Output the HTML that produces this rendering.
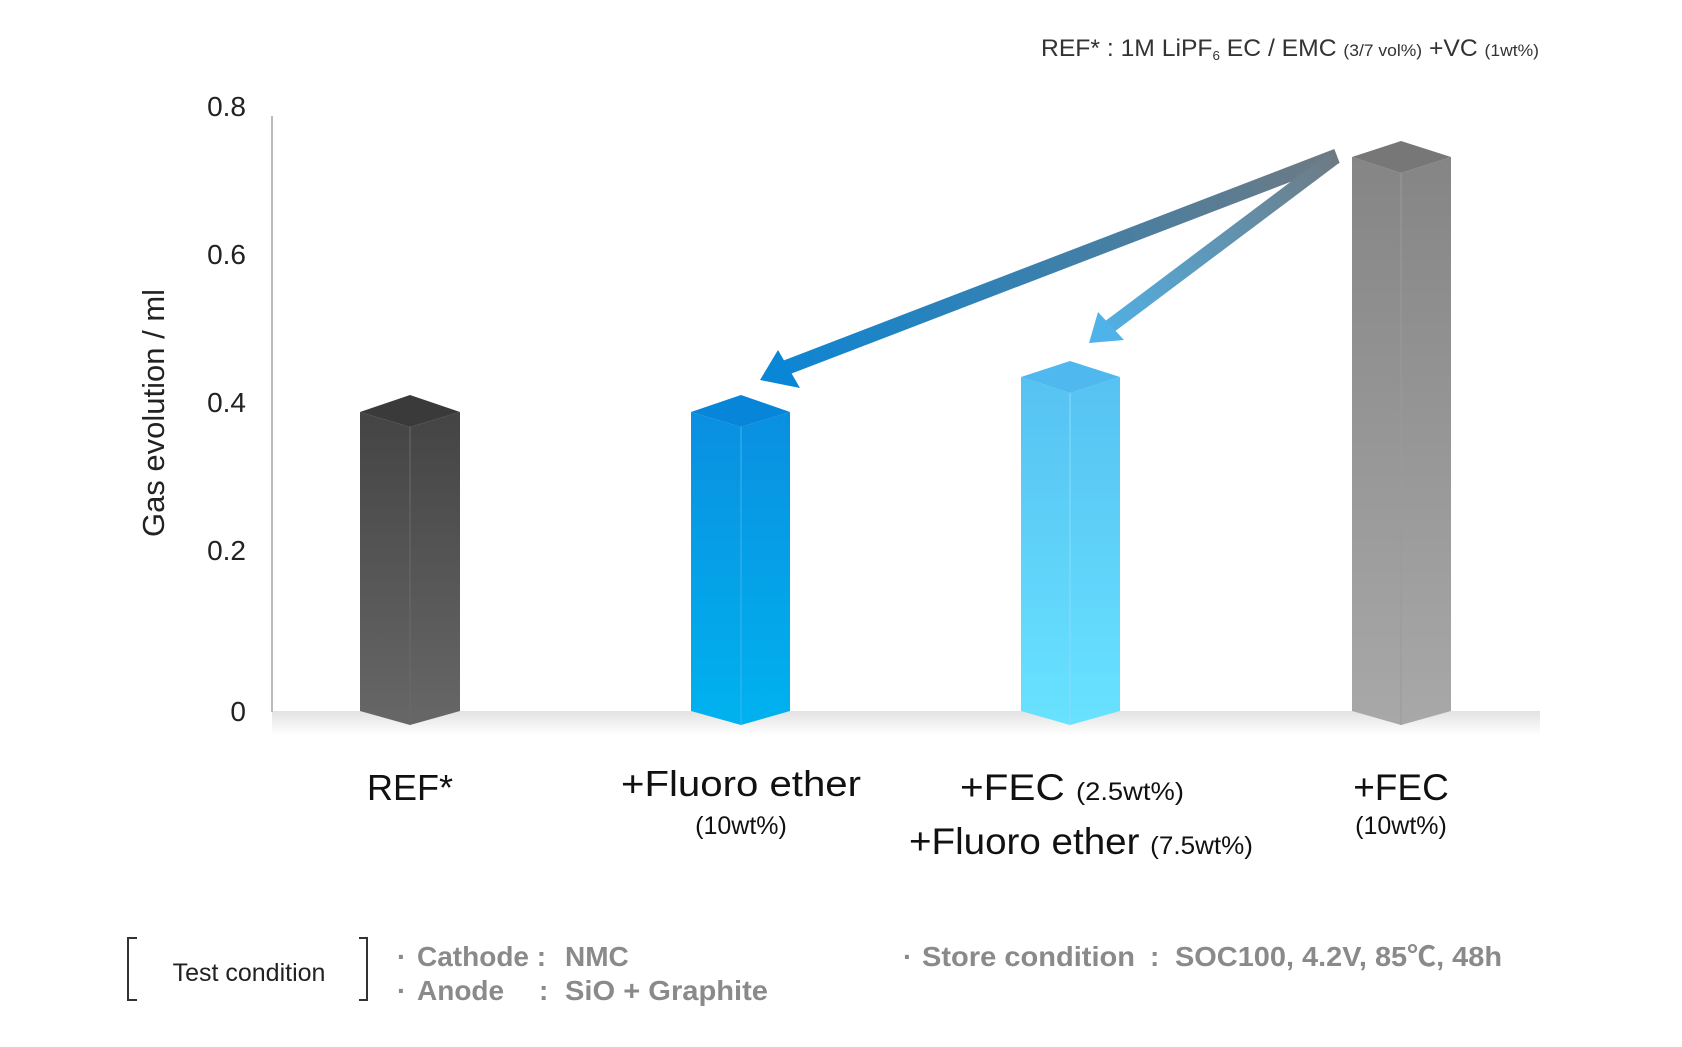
<!DOCTYPE html>
<html><head><meta charset="utf-8"><style>
html,body{margin:0;padding:0;background:#fff;}
svg{display:block;}
text{font-family:"Liberation Sans","Noto Sans CJK JP",sans-serif;}
</style></head><body>
<svg width="1682" height="1047" viewBox="0 0 1682 1047" xmlns="http://www.w3.org/2000/svg">
<defs>
<linearGradient id="floor" x1="0" y1="0" x2="0" y2="1"><stop offset="0" stop-color="#e2e2e2"/><stop offset="1" stop-color="#ffffff"/></linearGradient>
<linearGradient id="g1" x1="0" y1="0" x2="0" y2="1"><stop offset="0" stop-color="#444"/><stop offset="1" stop-color="#676767"/></linearGradient>
<linearGradient id="g2" x1="0" y1="0" x2="0" y2="1"><stop offset="0" stop-color="#0a8fe0"/><stop offset="1" stop-color="#00b2ef"/></linearGradient>
<linearGradient id="g3" x1="0" y1="0" x2="0" y2="1"><stop offset="0" stop-color="#56c2f2"/><stop offset="1" stop-color="#68e2ff"/></linearGradient>
<linearGradient id="g4" x1="0" y1="0" x2="0" y2="1"><stop offset="0" stop-color="#858585"/><stop offset="1" stop-color="#a8a8a8"/></linearGradient>
<linearGradient id="a1" gradientUnits="userSpaceOnUse" x1="1337" y1="156" x2="760" y2="379"><stop offset="0" stop-color="#6e7a82"/><stop offset="1" stop-color="#0a86d6"/></linearGradient>
<linearGradient id="a2" gradientUnits="userSpaceOnUse" x1="1337" y1="156" x2="1089" y2="343"><stop offset="0" stop-color="#6e7a82"/><stop offset="1" stop-color="#4fb3ea"/></linearGradient>
</defs>
<text x="1041" y="56" font-size="24" fill="#333" textLength="498" lengthAdjust="spacingAndGlyphs">REF* : 1M LiPF<tspan font-size="13" dy="4">6</tspan><tspan dy="-4"> EC / EMC </tspan><tspan font-size="17">(3/7 vol%)</tspan> +VC <tspan font-size="17">(1wt%)</tspan></text>
<rect x="272" y="711" width="1268" height="24" fill="url(#floor)"/>
<line x1="272" y1="116" x2="272" y2="712" stroke="#bbb" stroke-width="2"/>
<g font-size="28" fill="#222" text-anchor="end">
<text x="246" y="116">0.8</text><text x="246" y="264">0.6</text><text x="246" y="412">0.4</text><text x="246" y="560">0.2</text><text x="246" y="721">0</text>
</g>
<text transform="translate(164,413) rotate(-90)" font-size="31" fill="#222" text-anchor="middle">Gas evolution / ml</text>
<g>
<polygon points="360,412 410,427 460,412 460,711 410,725 360,711" fill="url(#g1)"/>
<polygon points="360,412 410,395 460,412 410,427" fill="#3a3a3a"/>
<line x1="410" y1="427" x2="410" y2="725" stroke="#6a6a6a" stroke-width="1"/>
<polygon points="691,412 741,427 790,412 790,711 741,725 691,711" fill="url(#g2)"/>
<polygon points="691,412 741,395 790,412 741,427" fill="#0785d8"/>
<line x1="741" y1="427" x2="741" y2="725" stroke="#3ab6f0" stroke-width="1"/>
<polygon points="1021,377 1070,393 1120,377 1120,711 1070,725 1021,711" fill="url(#g3)"/>
<polygon points="1021,377 1070,361 1120,377 1070,393" fill="#4fb8ef"/>
<line x1="1070" y1="393" x2="1070" y2="725" stroke="#88dcff" stroke-width="1"/>
<polygon points="1352,157 1401,173 1451,157 1451,711 1401,725 1352,711" fill="url(#g4)"/>
<polygon points="1352,157 1401,141 1451,157 1401,173" fill="#777"/>
<line x1="1401" y1="173" x2="1401" y2="725" stroke="#9a9a9a" stroke-width="1"/>
</g>
<line x1="1337" y1="156" x2="785" y2="368" stroke="url(#a1)" stroke-width="15"/>
<polygon points="760,380 778,350 800,388" fill="#0a86d6"/>
<line x1="1334" y1="158" x2="1105" y2="330" stroke="url(#a2)" stroke-width="14"/>
<polygon points="1089,343 1098,312 1124,340" fill="#4fb3ea"/>
<g fill="#111">
<text x="410" y="800" font-size="36" text-anchor="middle">REF*</text>
<text x="621" y="796" font-size="36" textLength="240" lengthAdjust="spacingAndGlyphs">+Fluoro ether</text>
<text x="741" y="834" font-size="25" text-anchor="middle">(10wt%)</text>
<text x="960" y="800" font-size="37" textLength="224" lengthAdjust="spacingAndGlyphs">+FEC <tspan font-size="25">(2.5wt%)</tspan></text>
<text x="909" y="854" font-size="37" textLength="344" lengthAdjust="spacingAndGlyphs">+Fluoro ether <tspan font-size="25">(7.5wt%)</tspan></text>
<text x="1401" y="800" font-size="37" text-anchor="middle">+FEC</text>
<text x="1401" y="834" font-size="25" text-anchor="middle">(10wt%)</text>
</g>
<path d="M137,938 H128 V1000 H137" fill="none" stroke="#333" stroke-width="2"/>
<path d="M359,938 H367 V1000 H359" fill="none" stroke="#333" stroke-width="2"/>
<text x="249" y="981" font-size="25" fill="#222" text-anchor="middle">Test condition</text>
<g font-size="28" fill="#8a8a8a" font-weight="bold">
<text x="397" y="966">·</text><text x="417" y="966">Cathode :</text><text x="565" y="966">NMC</text>
<text x="397" y="1000">·</text><text x="417" y="1000">Anode</text><text x="539" y="1000">:</text><text x="565" y="1000" textLength="203" lengthAdjust="spacingAndGlyphs">SiO + Graphite</text>
<text x="903" y="966">·</text><text x="922" y="966" textLength="213" lengthAdjust="spacingAndGlyphs">Store condition</text><text x="1150" y="966">:</text><text x="1175" y="966" textLength="327" lengthAdjust="spacingAndGlyphs">SOC100, 4.2V, 85℃, 48h</text>
</g>
</svg>
</body></html>
